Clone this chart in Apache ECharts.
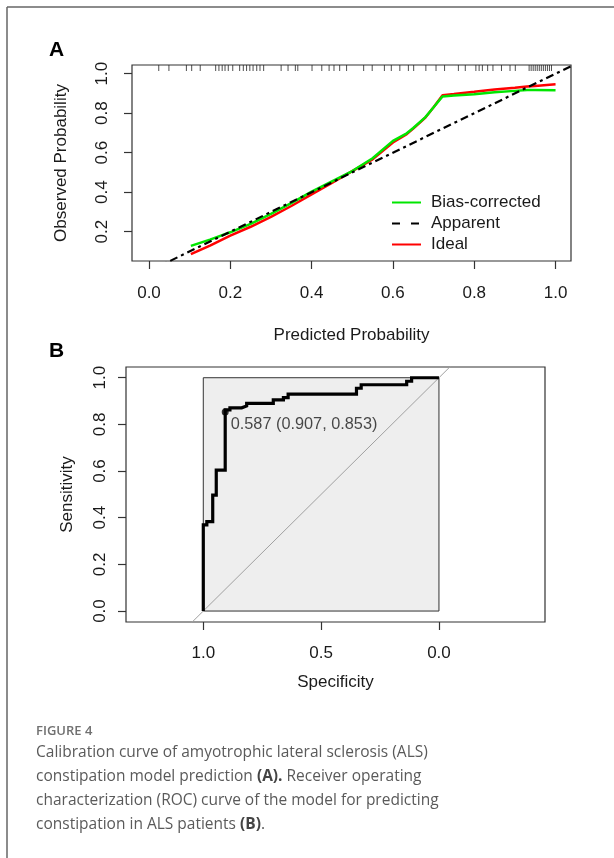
<!DOCTYPE html>
<html>
<head>
<meta charset="utf-8">
<script src="https://cdn.jsdelivr.net/npm/echarts@6/dist/echarts.min.js"></script>
<style>
html,body{margin:0;padding:0;background:#fff;}
#chart{width:614px;height:858px;}
</style>
</head>
<body>
<div id="chart"></div>
<script>
// ---------- Panel A: calibration curve ----------
const calX = [0.103,0.15,0.2,0.25,0.3,0.35,0.4,0.45,0.5,0.55,0.6,0.634,0.65,0.68,0.7,0.722,0.75,0.8,0.85,0.9,0.93,0.95,1.0];
const biasCorrected = [0.128,0.16,0.197,0.24,0.29,0.345,0.403,0.455,0.507,0.572,0.66,0.698,0.725,0.78,0.83,0.885,0.889,0.896,0.906,0.913,0.917,0.918,0.916];
const idealCurve = [0.086,0.13,0.18,0.225,0.275,0.33,0.389,0.447,0.507,0.566,0.652,0.694,0.722,0.778,0.83,0.891,0.897,0.908,0.92,0.929,0.935,0.938,0.946];
const apparentLine = [[-0.2,-0.2],[1.2,1.2]];
const rugX = [0.024,0.049,0.092,0.105,0.126,0.164,0.172,0.18,0.187,0.195,0.206,0.223,0.232,0.24,0.248,0.256,0.265,0.273,0.282,0.325,0.342,0.36,0.366,0.401,0.425,0.443,0.455,0.469,0.486,0.528,0.549,0.579,0.596,0.617,0.638,0.651,0.681,0.706,0.727,0.761,0.778,0.804,0.812,0.82,0.833,0.846,0.867,0.888,0.901,0.935,0.94,0.945,0.95,0.955,0.96,0.965,0.97,0.975,0.98,0.985,0.99];
const calXTicks = [0,0.2,0.4,0.6,0.8,1.0];
const calYTicks = [0.2,0.4,0.6,0.8,1.0];
const legendNames = ['Bias-corrected','Apparent','Ideal'];

// ---------- Panel B: ROC curve ----------
const rocSpec = [1.0,1.0,0.985,0.985,0.96,0.96,0.945,0.945,0.907,0.907,0.887,0.887,0.837,0.837,0.816,0.816,0.703,0.703,0.66,0.66,0.64,0.64,0.35,0.35,0.33,0.33,0.137,0.137,0.116,0.116,0.0];
const rocSens = [0.0,0.369,0.369,0.383,0.383,0.497,0.497,0.604,0.604,0.862,0.862,0.871,0.871,0.879,0.879,0.89,0.89,0.905,0.905,0.915,0.915,0.93,0.93,0.955,0.955,0.97,0.97,0.985,0.985,1.0,1.0];
const cutoffPoint = [0.907,0.853];
const cutoffLabel = '0.587 (0.907, 0.853)';
const chanceLine = [[1.2,-0.2],[-0.2,1.2]];
const rocXTicks = [0,0.5,1.0];
const rocYTicks = [0,0.2,0.4,0.6,0.8,1.0];
const aucText = 'AUC: 0.894';
const ciText = ['(95%','CI',':0.833-0.956)'];

const FONT = '"Liberation Sans", Arial, sans-serif';
const CAP = '"Open Sans", sans-serif';
const TXT = '#1a1a1a';

const chart = echarts.init(document.getElementById('chart'), null, {renderer:'canvas'});

const rocData = rocSpec.map((s,i)=>[s,rocSens[i]]);
const calGreen = calX.map((x,i)=>[x,biasCorrected[i]]);
const calRed = calX.map((x,i)=>[x,idealCurve[i]]);

const tickStyle = {show:true, inside:false, length:8, lineStyle:{color:'#333', width:1.2}};
const labelStyle = {fontSize:17, fontFamily:FONT, color:TXT};

const option = {
  backgroundColor:'#fff',
  animation:false,
  grid:[
    {left:132, top:65, width:439, height:196, show:true, borderColor:'#333', borderWidth:1.2, backgroundColor:'transparent', containLabel:false},
    {left:126, top:367, width:419, height:255, show:true, borderColor:'#333', borderWidth:1.2, backgroundColor:'transparent', containLabel:false}
  ],
  xAxis:[
    {type:'value', gridIndex:0, position:'bottom', min:-0.0418, max:1.038,
     axisLine:{show:false, onZero:false}, splitLine:{show:false},
     axisTick:Object.assign({customValues:calXTicks}, tickStyle),
     axisLabel:Object.assign({customValues:calXTicks, formatter:v=>v.toFixed(1), margin:24}, labelStyle),
     name:'Predicted Probability', nameLocation:'middle', nameGap:66, nameTextStyle:labelStyle},
    {type:'value', gridIndex:1, position:'bottom', inverse:true, min:-0.45, max:1.328,
     axisLine:{show:false, onZero:false}, splitLine:{show:false},
     axisTick:Object.assign({customValues:rocXTicks}, tickStyle),
     axisLabel:Object.assign({customValues:rocXTicks, formatter:v=>v.toFixed(1), margin:23}, labelStyle),
     name:'Specificity', nameLocation:'middle', nameGap:52, nameTextStyle:labelStyle}
  ],
  yAxis:[
    {type:'value', gridIndex:0, position:'left', min:0.0516, max:1.044,
     axisLine:{show:false, onZero:false}, splitLine:{show:false},
     axisTick:Object.assign({customValues:calYTicks}, tickStyle),
     axisLabel:Object.assign({customValues:calYTicks, formatter:v=>v.toFixed(1), rotate:90, margin:21}, labelStyle),
     name:'Observed Probability', nameLocation:'middle', nameGap:62, nameTextStyle:labelStyle},
    {type:'value', gridIndex:1, position:'left', min:-0.047, max:1.046,
     axisLine:{show:false, onZero:false}, splitLine:{show:false},
     axisTick:Object.assign({customValues:rocYTicks}, tickStyle),
     axisLabel:Object.assign({customValues:rocYTicks, formatter:v=>v.toFixed(1), rotate:90, margin:17}, labelStyle),
     name:'Sensitivity', nameLocation:'middle', nameGap:50, nameTextStyle:labelStyle}
  ],
  legend:{
    left:386, top:189, orient:'vertical', itemWidth:29, itemHeight:14, itemGap:4,
    textStyle:{fontSize:17, fontFamily:FONT, color:TXT, padding:[0,0,0,5]},
    data:[
      {name:legendNames[0], itemStyle:{opacity:0}},
      {name:legendNames[1], itemStyle:{opacity:0}, lineStyle:{type:[8,11], width:2}},
      {name:legendNames[2], itemStyle:{opacity:0}}
    ]
  },
  series:[
    {name:'rug', type:'scatter', xAxisIndex:0, yAxisIndex:0, symbol:'rect', symbolSize:[1,6], symbolOffset:[0,3],
     itemStyle:{color:'#222'}, silent:true, data:rugX.map(x=>[x,1.044]), z:3},
    {name:legendNames[2], type:'line', xAxisIndex:0, yAxisIndex:0, data:calRed, symbol:'none', showSymbol:false, smooth:false,
     lineStyle:{color:'#ff0000', width:2.5}, itemStyle:{color:'#ff0000'}, z:4},
    {name:legendNames[0], type:'line', xAxisIndex:0, yAxisIndex:0, data:calGreen, symbol:'none', showSymbol:false, smooth:false,
     lineStyle:{color:'#00e600', width:2.5}, itemStyle:{color:'#00e600'}, z:5},
    {name:legendNames[1], type:'line', xAxisIndex:0, yAxisIndex:0, data:apparentLine, symbol:'none', showSymbol:false, clip:true,
     lineStyle:{color:'#000', width:2.2, type:[8,4,3,4]}, itemStyle:{color:'#000'}, z:6},

    {name:'chance', type:'line', xAxisIndex:1, yAxisIndex:1, data:chanceLine, symbol:'none', clip:true,
     lineStyle:{color:'#a0a0a0', width:1}, z:3,
     markArea:{silent:true, itemStyle:{color:'#eeeeee', borderColor:'#333', borderWidth:1},
       data:[[{coord:[1,0]},{coord:[0,1]}]]}},
    {name:'roc', type:'line', xAxisIndex:1, yAxisIndex:1, data:rocData, symbol:'none',
     lineStyle:{color:'#000', width:3.2, join:'miter'}, z:5},
    {name:'cutoff', type:'scatter', xAxisIndex:1, yAxisIndex:1, data:[cutoffPoint], symbol:'circle', symbolSize:7,
     itemStyle:{color:'#000'}, z:6,
     label:{show:true, position:'right', distance:2, offset:[0,12], formatter:cutoffLabel, fontSize:16.3, fontFamily:FONT, color:TXT}}
  ],
  graphic:[
    {type:'line', shape:{x1:7, y1:7, x2:614, y2:7}, style:{stroke:'#666', lineWidth:1.5}},
    {type:'line', shape:{x1:7, y1:7, x2:7, y2:858}, style:{stroke:'#666', lineWidth:1.5}},
    {type:'text', left:49, top:40, style:{text:'A', font:'bold 21px '+FONT, fill:'#000'}},
    {type:'text', left:49, top:341, style:{text:'B', font:'bold 21px '+FONT, fill:'#000'}},
    {type:'text', x:354, y:530, style:{text:aucText, font:'17px '+FONT, fill:TXT, align:'center', verticalAlign:'middle'}},
    {type:'text', x:356, y:563, style:{
      text:'{n|'+ciText[0]+'}{i|'+ciText[1]+'}{n|'+ciText[2]+'}', align:'center', verticalAlign:'middle',
      rich:{n:{font:'17px '+FONT, fill:TXT}, i:{font:'italic 17px '+FONT, fill:TXT}}}},
    {type:'text', x:36, y:731, style:{text:'FIGURE 4', font:'600 13px '+CAP, fill:'#707070', verticalAlign:'middle'}},
    {type:'text', x:36, y:753, style:{text:'Calibration curve of amyotrophic lateral sclerosis (ALS)', font:'15.5px '+CAP, fill:'#5a5a5a', verticalAlign:'middle'}},
    {type:'text', x:36, y:777, style:{text:'constipation model prediction {b|(A).} Receiver operating', font:'15.5px '+CAP, fill:'#5a5a5a', verticalAlign:'middle',
      rich:{b:{font:'bold 15.5px '+CAP, fill:'#444'}}}},
    {type:'text', x:36, y:801, style:{text:'characterization (ROC) curve of the model for predicting', font:'15.5px '+CAP, fill:'#5a5a5a', verticalAlign:'middle'}},
    {type:'text', x:36, y:825, style:{text:'constipation in ALS patients {b|(B)}.', font:'15.5px '+CAP, fill:'#5a5a5a', verticalAlign:'middle',
      rich:{b:{font:'bold 15.5px '+CAP, fill:'#444'}}}}
  ]
};
chart.setOption(option);
</script>
</body>
</html>
